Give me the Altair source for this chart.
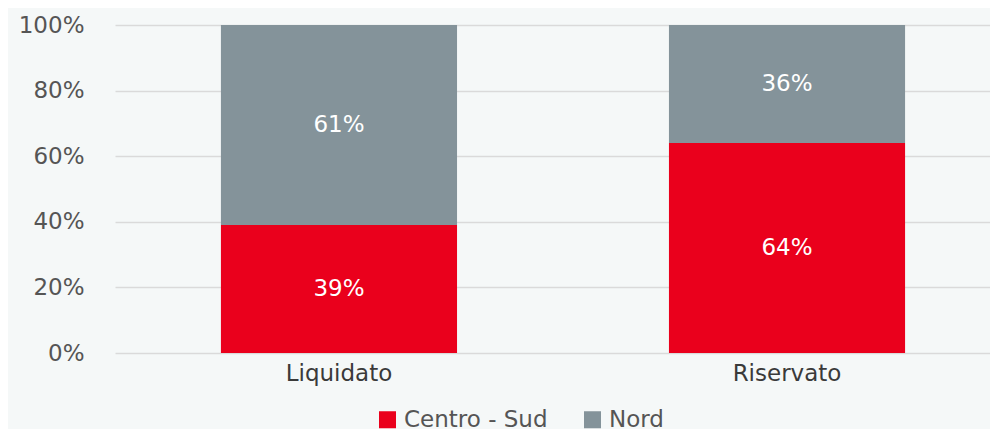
import altair as alt
import pandas as pd

categories = ["Liquidato", "Riservato"]
series = ["Centro - Sud", "Nord"]
centro_sud = [39, 64]
nord = [61, 36]
colors = ["#EA001C", "#84939A"]
y_ticks = [0, 20, 40, 60, 80, 100]

rows = []
for i, cat in enumerate(categories):
    base = 0
    for s, vals in zip(series, [centro_sud, nord]):
        v = vals[i]
        rows.append({"cat": cat, "series": s, "value": v, "order": series.index(s),
                     "start": base, "end": base + v, "mid": base + v / 2,
                     "label": f"{v}%"})
        base += v
df = pd.DataFrame(rows)

FONT = "DejaVu Sans"

x = alt.X("cat:N", sort=categories, title=None,
          scale=alt.Scale(paddingInner=0.473, paddingOuter=0.213, align=0.555),
          axis=alt.Axis(labelAngle=0, labelFontSize=23, labelColor="#3a3a3a",
                        labelFont=FONT, labelPadding=9, ticks=False, domain=False,
                        grid=False))

bars = alt.Chart(df).mark_bar().encode(
    x=x,
    y=alt.Y("start:Q", title=None,
            scale=alt.Scale(domain=[0, 100], nice=False),
            axis=alt.Axis(values=y_ticks, labelExpr="datum.value + '%'",
                          labelFontSize=23, labelColor="#555555", labelFont=FONT,
                          labelPadding=31, ticks=False, domain=False,
                          grid=True, gridColor="#DADADA", gridWidth=1.5)),
    y2="end:Q",
    color=alt.Color("series:N", sort=series, title=None,
                    scale=alt.Scale(domain=series, range=colors),
                    legend=alt.Legend(orient="none", legendX=261, legendY=383,
                                      direction="horizontal", symbolType="square",
                                      symbolSize=289, symbolStrokeWidth=0,
                                      labelFontSize=23, labelColor="#555555",
                                      labelFont=FONT, labelOffset=5,
                                      columnPadding=33, padding=0)),
)

text = alt.Chart(df).mark_text(color="white", fontSize=23, font=FONT,
                               baseline="middle").encode(
    x=alt.X("cat:N", sort=categories),
    y=alt.Y("mid:Q"),
    text="label:N",
)

chart = alt.layer(bars, text).properties(
    width=875, height=328,
    autosize=alt.AutoSizeParams(type="none"),
    padding={"left": 107, "top": 17, "right": 0, "bottom": 76},
    background="#F5F8F8",
).configure_view(stroke=None)

chart.save("out.html", embed_options={"renderer": "svg", "actions": False})
